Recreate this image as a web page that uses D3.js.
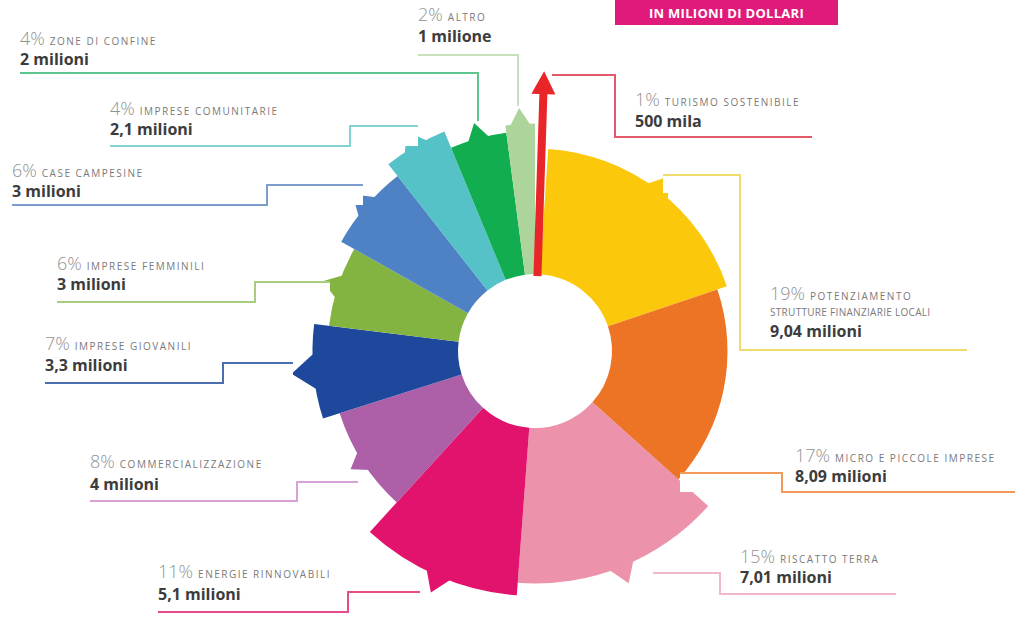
<!DOCTYPE html>
<html>
<head>
<meta charset="utf-8">
<script src="https://cdn.jsdelivr.net/npm/d3@7"></script>
<style>
  body { margin: 0; background: #fff; }
  svg { display: block; font-family: "Open Sans", sans-serif; }
</style>
</head>
<body>
<div id="chart"></div>
<script>
// dati (in milioni di dollari), in senso orario partendo dalle ore 12
const categorie = ["TURISMO SOSTENIBILE", "POTENZIAMENTO", "MICRO E PICCOLE IMPRESE", "RISCATTO TERRA",
  "ENERGIE RINNOVABILI", "COMMERCIALIZZAZIONE", "IMPRESE GIOVANILI", "IMPRESE FEMMINILI",
  "CASE CAMPESINE", "IMPRESE COMUNITARIE", "ZONE DI CONFINE", "ALTRO"];
const percentuali = ["1%", "19%", "17%", "15%", "11%", "8%", "7%", "6%", "6%", "4%", "4%", "2%"];
const valori = [0.5, 9.04, 8.09, 7.01, 5.1, 4, 3.3, 3, 3, 2.1, 2, 1];
const etichetteValore = ["500 mila", "9,04 milioni", "8,09 milioni", "7,01 milioni", "5,1 milioni",
  "4 milioni", "3,3 milioni", "3 milioni", "3 milioni", "2,1 milioni", "2 milioni", "1 milione"];
// sporgenza di ogni spicchio (indice 0-100)
const rilievo = [112, 81, 77, 93, 98, 82, 89, 83, 89, 95, 88, 91];

const colori = ["#e8262a", "#fcc80b", "#ec7424", "#ec93ab", "#e2136d", "#ad5fa8",
  "#1e489c", "#83b441", "#4f82c4", "#54c2c7", "#12ad50", "#acd49b"];
const coloriLinea = ["#e25a68", "#efdc6c", "#f39a5a", "#f2b8ca", "#e64d88", "#d7a2d5",
  "#4c6db0", "#a9cd80", "#7d9dcc", "#82d1d3", "#5cc68e", "#c8e0bb"];
// punta a freccia: [mezza larghezza, altezza]
const punte = [[12, 23], [14, 18], null, [14, 18], [14, 18], [12, 14],
  [19, 22], [13, 16], [14, 18], [14, 17], [12, 16], [11, 16]];

// posizione delle etichette e linee guida
const layout = [
  { x: 635, yPct: 106, yVal: 127, linea: [[552, 75], [615, 75], [615, 137], [812, 137]], box: null },
  { x: 770, yPct: 300, yVal: 337, riga2: "STRUTTURE FINANZIARIE LOCALI", y2: 316,
    linea: [[663, 175], [740, 175], [740, 350], [967, 350]], box: [663, 175, 740, 193] },
  { x: 795, yPct: 462, yVal: 482, linea: [[680, 473], [782, 473], [782, 492], [1015, 492]], box: [680, 473, 782, 492] },
  { x: 740, yPct: 563, yVal: 583, linea: [[653, 573], [720, 573], [720, 594], [896, 594]], box: [653, 573, 720, 594] },
  { x: 158, yPct: 578, yVal: 600, linea: [[158, 612], [348, 612], [348, 592], [420, 592]], box: [348, 592, 420, 612] },
  { x: 90, yPct: 468, yVal: 490, linea: [[90, 501], [297, 501], [297, 482], [358, 482]], box: [297, 482, 358, 501] },
  { x: 45, yPct: 350, yVal: 371, linea: [[45, 383], [223, 383], [223, 363], [293, 363]], box: [223, 363, 293, 383] },
  { x: 57, yPct: 270, yVal: 290, linea: [[57, 302], [255, 302], [255, 282], [330, 282]], box: [255, 282, 330, 302] },
  { x: 12, yPct: 177, yVal: 197, linea: [[12, 205], [267, 205], [267, 185], [363, 185]], box: [267, 185, 363, 205] },
  { x: 110, yPct: 115, yVal: 135, linea: [[110, 146], [350, 146], [350, 126], [418, 126]], box: [350, 126, 418, 146] },
  { x: 20, yPct: 45, yVal: 65, linea: [[20, 73], [478, 73], [478, 121]], box: null },
  { x: 418, yPct: 21, yVal: 42, linea: [[418, 55], [518, 55], [518, 106]], box: null }
];

const width = 1017, height = 619;
const cx = 535, cy = 351, r0 = 77;

const svg = d3.select("#chart")
  .append("svg")
  .attr("width", width)
  .attr("height", height);

const g = svg.append("g").attr("transform", "translate(" + cx + "," + cy + ")");

const raggio = d3.scaleLinear().domain([0, 100]).range([0, 250]);
const spicchi = d3.pie().sort(null).value(d => d)(valori);
const arco = d3.arc();

function polare(a, r) {
  return [r * Math.sin(a), -r * Math.cos(a)];
}

function punta(a, rBase, rTip, hw) {
  const b = polare(a, rBase), t = polare(a, rTip);
  const px = Math.cos(a) * hw, py = Math.sin(a) * hw;
  return [[b[0] - px, b[1] - py], t, [b[0] + px, b[1] + py]];
}

// spicchi con punta a freccia
spicchi.forEach((s, i) => {
  if (i === 0) return;
  const R = raggio(rilievo[i]);
  g.append("path")
    .attr("d", arco({ startAngle: s.startAngle, endAngle: s.endAngle, innerRadius: r0, outerRadius: R }))
    .attr("fill", colori[i]);
  if (!punte[i]) return;
  const mid = (s.startAngle + s.endAngle) / 2;
  g.append("path")
    .attr("d", d3.line()(punta(mid, R - 3, R + punte[i][1], punte[i][0])) + "Z")
    .attr("fill", colori[i]);
});

// freccia sottile per il turismo sostenibile
{
  const s = spicchi[0];
  const mid = (s.startAngle + s.endAngle) / 2;
  const Rt = raggio(rilievo[0]);
  const rHead = Rt - punte[0][1];
  const px = Math.cos(mid), py = Math.sin(mid);
  const a = polare(mid, r0 - 2), b = polare(mid, rHead + 1);
  const shaft = [[a[0] - px * 4, a[1] - py * 4], [b[0] - px * 4, b[1] - py * 4],
    [b[0] + px * 4, b[1] + py * 4], [a[0] + px * 4, a[1] + py * 4]];
  g.append("path").attr("d", d3.line()(shaft) + "Z").attr("fill", colori[0]);
  g.append("path").attr("d", d3.line()(punta(mid, rHead, Rt, punte[0][0])) + "Z").attr("fill", colori[0]);
}

// riquadri bianchi delle etichette
layout.forEach(l => {
  if (!l.box) return;
  svg.append("rect")
    .attr("x", l.box[0]).attr("y", l.box[1])
    .attr("width", l.box[2] - l.box[0]).attr("height", l.box[3] - l.box[1])
    .attr("fill", "#fff");
});

// linee guida
layout.forEach((l, i) => {
  svg.append("path")
    .attr("d", d3.line()(l.linea))
    .attr("fill", "none")
    .attr("stroke", coloriLinea[i])
    .attr("stroke-width", 2);
});

// testi
layout.forEach((l, i) => {
  const t = svg.append("text").attr("x", l.x).attr("y", l.yPct);
  t.append("tspan")
    .attr("font-size", 18)
    .attr("font-weight", 300)
    .attr("fill", "#939393")
    .text(percentuali[i]);
  t.append("tspan")
    .attr("dx", 5)
    .attr("font-size", 10)
    .attr("fill", "#7a7a7a")
    .attr("letter-spacing", 1.5)
    .text(categorie[i]);
  if (l.riga2) {
    svg.append("text")
      .attr("x", l.x).attr("y", l.y2)
      .attr("font-size", 10)
      .attr("fill", "#7a7a7a")
      .attr("letter-spacing", 0.3)
      .text(l.riga2);
  }
  svg.append("text")
    .attr("x", l.x).attr("y", l.yVal)
    .attr("font-size", 16)
    .attr("font-weight", 700)
    .attr("fill", "#3c3c3c")
    .text(etichetteValore[i]);
});

// riquadro unità di misura
svg.append("rect")
  .attr("x", 615).attr("y", 0)
  .attr("width", 223).attr("height", 25)
  .attr("fill", "#e01a7a");
svg.append("text")
  .attr("x", 726.5).attr("y", 18)
  .attr("text-anchor", "middle")
  .attr("font-size", 13)
  .attr("font-weight", 700)
  .attr("fill", "#fff")
  .attr("letter-spacing", 0.3)
  .text("IN MILIONI DI DOLLARI");
</script>
</body>
</html>
